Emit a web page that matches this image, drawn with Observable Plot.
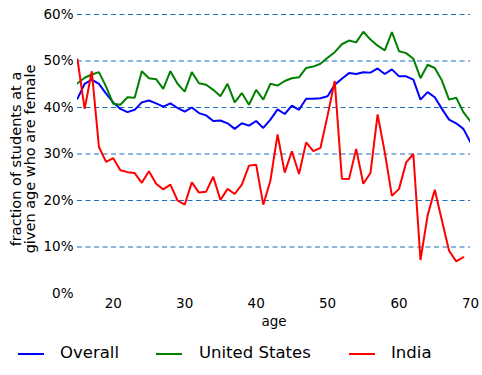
<!DOCTYPE html>
<html>
<head>
<meta charset="utf-8">
<script src="https://cdn.jsdelivr.net/npm/d3@7"></script>
<script src="https://cdn.jsdelivr.net/npm/@observablehq/plot@0.6"></script>
<style>
  html, body { margin: 0; padding: 0; background: #fff; }
  body { width: 482px; height: 375px; overflow: hidden; font-family: "DejaVu Sans", sans-serif; }
  #legend { position: relative; width: 482px; height: 40px; }
  #legend .sw { position: absolute; height: 2px; top: 18px; }
  #legend .lb { position: absolute; top: 8px; font-size: 16.5px; line-height: 20px; color: #000; }
</style>
</head>
<body>
<div id="chart"></div>
<div id="legend"></div>
<script>
const ages = d3.range(15, 71);
const overall = [41.9, 45.1, 46.0, 45.1, 43.0, 41.1, 39.7, 39.0, 39.5, 41.1, 41.5, 40.9, 40.2, 40.9, 39.9, 39.1, 40.0, 38.8, 38.3, 37.1, 37.2, 36.6, 35.4, 36.6, 36.1, 37.1, 35.6, 37.4, 39.6, 38.6, 40.4, 39.5, 41.9, 41.9, 42.0, 42.4, 44.9, 46.2, 47.4, 47.2, 47.6, 47.5, 48.4, 47.2, 48.2, 46.7, 46.7, 46.0, 41.7, 43.3, 42.2, 39.7, 37.4, 36.6, 35.4, 32.5];
const unitedStates = [45.2, 46.4, 47.1, 47.6, 44.5, 40.8, 40.6, 42.2, 42.1, 47.8, 46.3, 46.1, 44.0, 47.8, 45.1, 43.4, 47.6, 45.2, 44.9, 43.8, 42.4, 45.1, 41.1, 43.1, 40.6, 43.8, 41.7, 45.1, 44.7, 45.7, 46.3, 46.5, 48.5, 48.8, 49.4, 50.7, 51.9, 53.6, 54.4, 54.0, 56.3, 54.6, 53.3, 52.3, 56.2, 52.1, 51.7, 50.5, 46.3, 49.2, 48.5, 45.8, 41.7, 42.1, 39.0, 37.0];
const india = [50.3, 39.7, 47.8, 31.5, 28.3, 29.1, 26.5, 26.1, 25.9, 23.8, 26.3, 23.6, 22.4, 23.4, 20.0, 19.1, 23.9, 21.7, 21.9, 25.1, 20.1, 22.5, 21.4, 23.4, 27.5, 27.7, 19.1, 24.3, 34.2, 26.0, 30.6, 25.7, 32.5, 30.6, 31.3, 38.3, 45.7, 24.7, 24.6, 31.1, 23.6, 25.9, 38.5, 30.4, 21.0, 22.5, 28.2, 30.0, 7.2, 16.8, 22.3, 15.7, 9.2, 6.9, 7.8];
const seriesNames = ["Overall", "United States", "India"];
const seriesColors = ["#0000ff", "#008000", "#ff0000"];
const yTicks = [0, 10, 20, 30, 40, 50, 60];
const gridTicks = [10, 20, 30, 40, 50, 60];
const xTicks = [20, 30, 40, 50, 60, 70];
const yLabel = "fraction of students at a\ngiven age who are female";

const seriesValues = [overall, unitedStates, india];
const rows = [];
seriesValues.forEach((vals, s) => {
  vals.forEach((v, i) => rows.push({age: ages[i], value: v, series: seriesNames[s]}));
});

const chart = Plot.plot({
  width: 482,
  height: 335,
  marginLeft: 77,
  marginRight: 12,
  marginTop: 14,
  marginBottom: 42,
  style: {fontFamily: "DejaVu Sans, sans-serif", fontSize: "13.5px", background: "#fff"},
  x: {domain: [15, 70], ticks: xTicks, tickSize: 0, tickPadding: 5, label: "age", labelAnchor: "center", labelArrow: "none", labelOffset: 32},
  y: {domain: [0, 60], ticks: yTicks, tickSize: 0, tickPadding: 4, tickFormat: d => d + "%", label: null},
  color: {domain: seriesNames, range: seriesColors},
  marks: [
    Plot.ruleY(gridTicks, {stroke: "#1a6fbf", strokeWidth: 1, strokeDasharray: "5,3.5"}),
    Plot.line(rows, {x: "age", y: "value", z: "series", stroke: "series", strokeWidth: 2, strokeLinejoin: "miter", clip: true}),
    Plot.text([yLabel], {frameAnchor: "left", textAnchor: "middle", lineAnchor: "middle", rotate: -90, dx: -54, dy: 5, fontSize: 14.5, lineHeight: 1.0, fill: "#000"})
  ]
});
document.getElementById("chart").appendChild(chart);

const legend = document.getElementById("legend");
const swX = [18, 156, 349];
const lbX = [60, 199, 391];
seriesNames.forEach((name, i) => {
  const sw = document.createElement("div");
  sw.className = "sw";
  sw.style.left = swX[i] + "px";
  sw.style.width = "26px";
  sw.style.background = seriesColors[i];
  legend.appendChild(sw);
  const lb = document.createElement("div");
  lb.className = "lb";
  lb.style.left = lbX[i] + "px";
  lb.textContent = name;
  legend.appendChild(lb);
});
</script>
</body>
</html>
